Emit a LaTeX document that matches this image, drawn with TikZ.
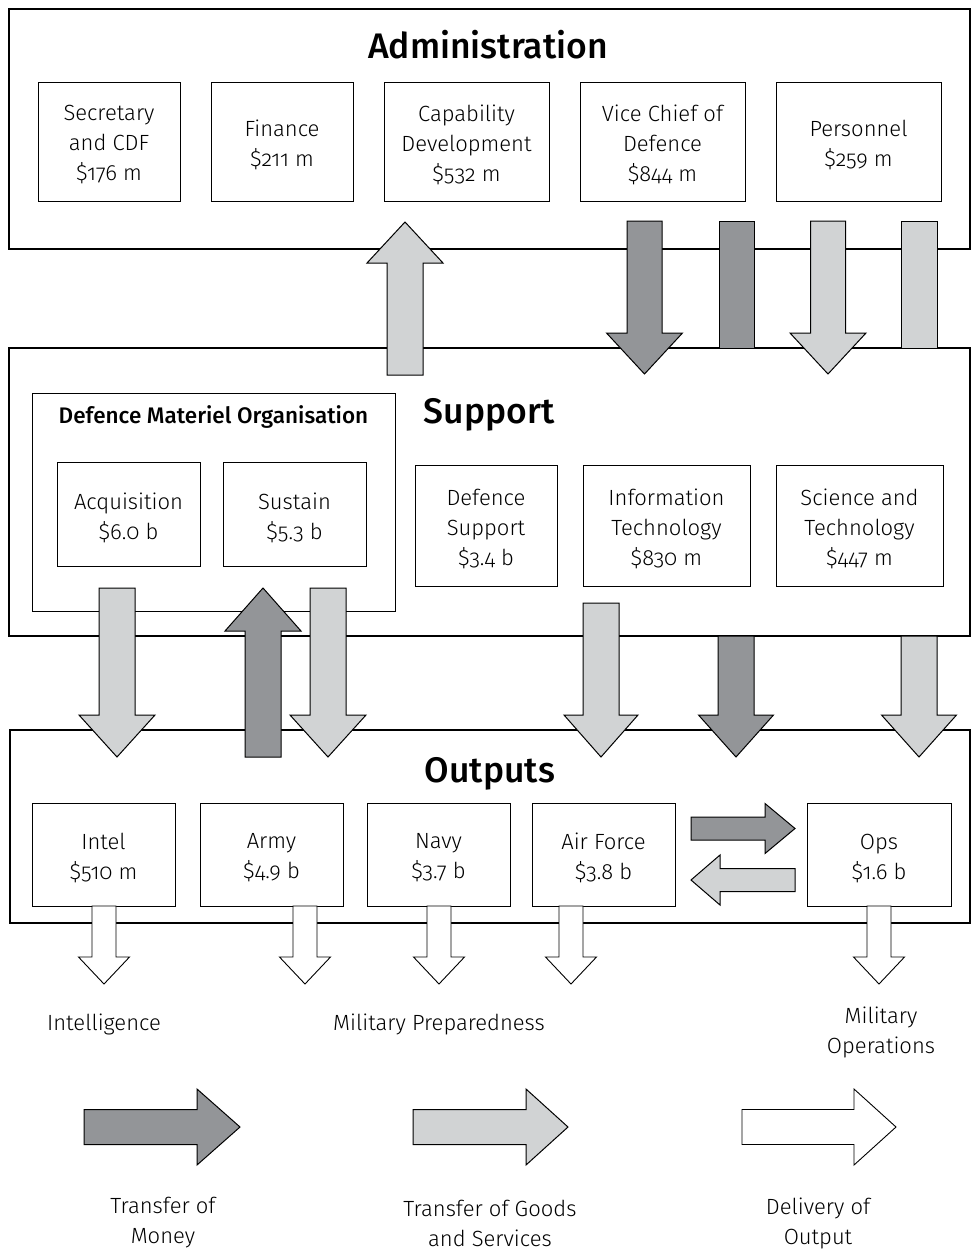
\documentclass[tikz,border=0pt]{standalone}
\usepackage{fontspec}
\setmainfont{Fira Sans}[UprightFont=* Light, BoldFont=* Medium, Numbers=OldStyle]
\definecolor{darkg}{HTML}{939598}
\definecolor{lightg}{HTML}{D1D3D4}
% vertical block arrow: style, x, y tail, y head base, y tip, shaft half width, head half width
\newcommand{\myVArrow}[7]{%
  \filldraw[#1] ({#2-#6},#3) -- ({#2-#6},#4) -- ({#2-#7},#4) -- (#2,#5) -- ({#2+#7},#4) -- ({#2+#6},#4) -- ({#2+#6},#3) -- cycle;}
% horizontal block arrow: style, y, x tail, x head base, x tip, shaft half width, head half width
\newcommand{\myHArrow}[7]{%
  \filldraw[#1] (#3,{#2-#6}) -- (#4,{#2-#6}) -- (#4,{#2-#7}) -- (#5,#2) -- (#4,{#2+#7}) -- (#4,{#2+#6}) -- (#3,{#2+#6}) -- cycle;}
% unit box: name, x, y, width, height, text
\newcommand{\unitbox}[6]{%
  \node[sub, minimum width=#4pt, minimum height=#5pt] (#1) at (#2,#3) {};
  \node[lab] (#1t) at (#2,{#3+3.5}) {#6};}
\tikzset{
  money/.style={fill=darkg, draw=black, line width=1pt, line join=miter},
  goods/.style={fill=lightg, draw=black, line width=1pt, line join=miter},
  deliv/.style={fill=white, draw=black, line width=0.9pt, line join=miter},
  outer/.style={draw, fill=white, line width=1.2pt, inner sep=0pt},
  sub/.style={draw, fill=white, line width=1pt, inner sep=0pt},
  title/.style={font=\fontsize{35.5}{40}\selectfont\bfseries, anchor=base},
  lab/.style={font=\fontsize{22}{30}\selectfont, align=center, inner sep=0pt}
}
\begin{document}
\begin{tikzpicture}[x=1pt,y=-1pt]
\useasboundingbox (0,0) rectangle (973,1250);
% ---------- Administration ----------
\node[outer, minimum width=961pt, minimum height=240pt] (admin) at (489.5,129) {};
\node[title] (admint) at (488,58) {Administration};
\unitbox{sec}{109}{141.5}{142}{119}{Secretary\\and CDF\\\$176 m}
\unitbox{fin}{282}{141.5}{142}{119}{Finance\\\$211 m}
\unitbox{cap}{466.5}{141.5}{165}{119}{Capability\\Development\\\$532 m}
\unitbox{vcd}{662.5}{141.5}{165}{119}{Vice Chief of\\Defence\\\$844 m}
\unitbox{per}{858.5}{141.5}{165}{119}{Personnel\\\$259 m}
% ---------- Support ----------
\node[outer, minimum width=961pt, minimum height=288pt] (support) at (489.5,492) {};
\node[title] (supportt) at (489,423) {Support};
\node[outer, line width=1pt, minimum width=363pt, minimum height=218pt] (dmo) at (213.5,502) {};
\node[font=\fontsize{22.5}{26}\selectfont\bfseries, anchor=base] (dmot) at (213.5,423) {Defence Materiel Organisation};
\unitbox{acq}{128.5}{514}{143}{104}{Acquisition\\\$6.0 b}
\unitbox{sus}{294.5}{514}{143}{104}{Sustain\\\$5.3 b}
\unitbox{ds}{486}{525.5}{142}{121}{Defence\\Support\\\$3.4 b}
\unitbox{it}{666.5}{525.5}{167}{121}{Information\\Technology\\\$830 m}
\unitbox{st}{859.5}{525.5}{167}{121}{Science and\\Technology\\\$447 m}
% ---------- Outputs ----------
\node[outer, minimum width=960pt, minimum height=193pt] (outputs) at (490,826.5) {};
\node[title] (outputst) at (490,782) {Outputs};
\unitbox{intel}{103.5}{854.5}{143}{103}{Intel\\\$510 m}
\unitbox{army}{271.5}{854.5}{143}{103}{Army\\\$4.9 b}
\unitbox{navy}{438.5}{854.5}{143}{103}{Navy\\\$3.7 b}
\unitbox{af}{603.5}{854.5}{143}{103}{Air Force\\\$3.8 b}
\unitbox{ops}{879}{854.5}{144}{103}{Ops\\\$1.6 b}
% ---------- arrows Admin <-> Support ----------
\myVArrow{goods}{405}{375}{263}{222}{18}{38}
\myVArrow{money}{644.5}{221}{333}{374}{17.5}{38}
\filldraw[money] (719,221) rectangle (754,348);
\myVArrow{goods}{828}{221}{333}{374}{17.5}{38}
\filldraw[goods] (901,221) rectangle (937,348);
% ---------- arrows Support <-> Outputs ----------
\myVArrow{goods}{117}{588}{715}{757}{18}{38}
\myVArrow{money}{263}{757}{631}{588}{18}{38}
\myVArrow{goods}{328}{588}{715}{757}{18}{38}
\myVArrow{goods}{601}{603}{715}{757}{18}{37}
\myVArrow{money}{736}{636}{715}{757}{18}{37.5}
\myVArrow{goods}{919}{636}{715}{757}{18}{37.5}
% ---------- Air Force <-> Ops ----------
\myHArrow{money}{828.5}{691}{765}{795}{11.5}{25}
\myHArrow{goods}{880}{795}{720}{691}{11.5}{25}
% ---------- delivery arrows ----------
\myVArrow{deliv}{104}{906}{957}{984}{12}{25.5}
\myVArrow{deliv}{305}{906}{957}{984}{12}{25.5}
\myVArrow{deliv}{439}{906}{957}{984}{12}{25.5}
\myVArrow{deliv}{571}{906}{957}{984}{12}{25.5}
\myVArrow{deliv}{879}{906}{957}{984}{12}{25.5}
\node[lab, anchor=base] (lintel) at (104,1030) {Intelligence};
\node[lab, anchor=base] (lprep) at (439,1030) {Military Preparedness};
\node[lab] (lops) at (881,1032) {Military\\Operations};
% ---------- legend ----------
\myHArrow{money}{1127}{84}{197}{240}{17.5}{38}
\myHArrow{goods}{1127}{413}{526}{568}{17.5}{38}
\myHArrow{deliv}{1127}{742}{854}{896}{17.5}{38}
\node[lab] (lmoney) at (163,1223) {Transfer of\\Money};
\node[lab] (lgoods) at (490,1223) {Transfer of Goods\\and Services};
\node[lab] (ldeliv) at (818,1223) {Delivery of\\Output};
\end{tikzpicture}
\end{document}
